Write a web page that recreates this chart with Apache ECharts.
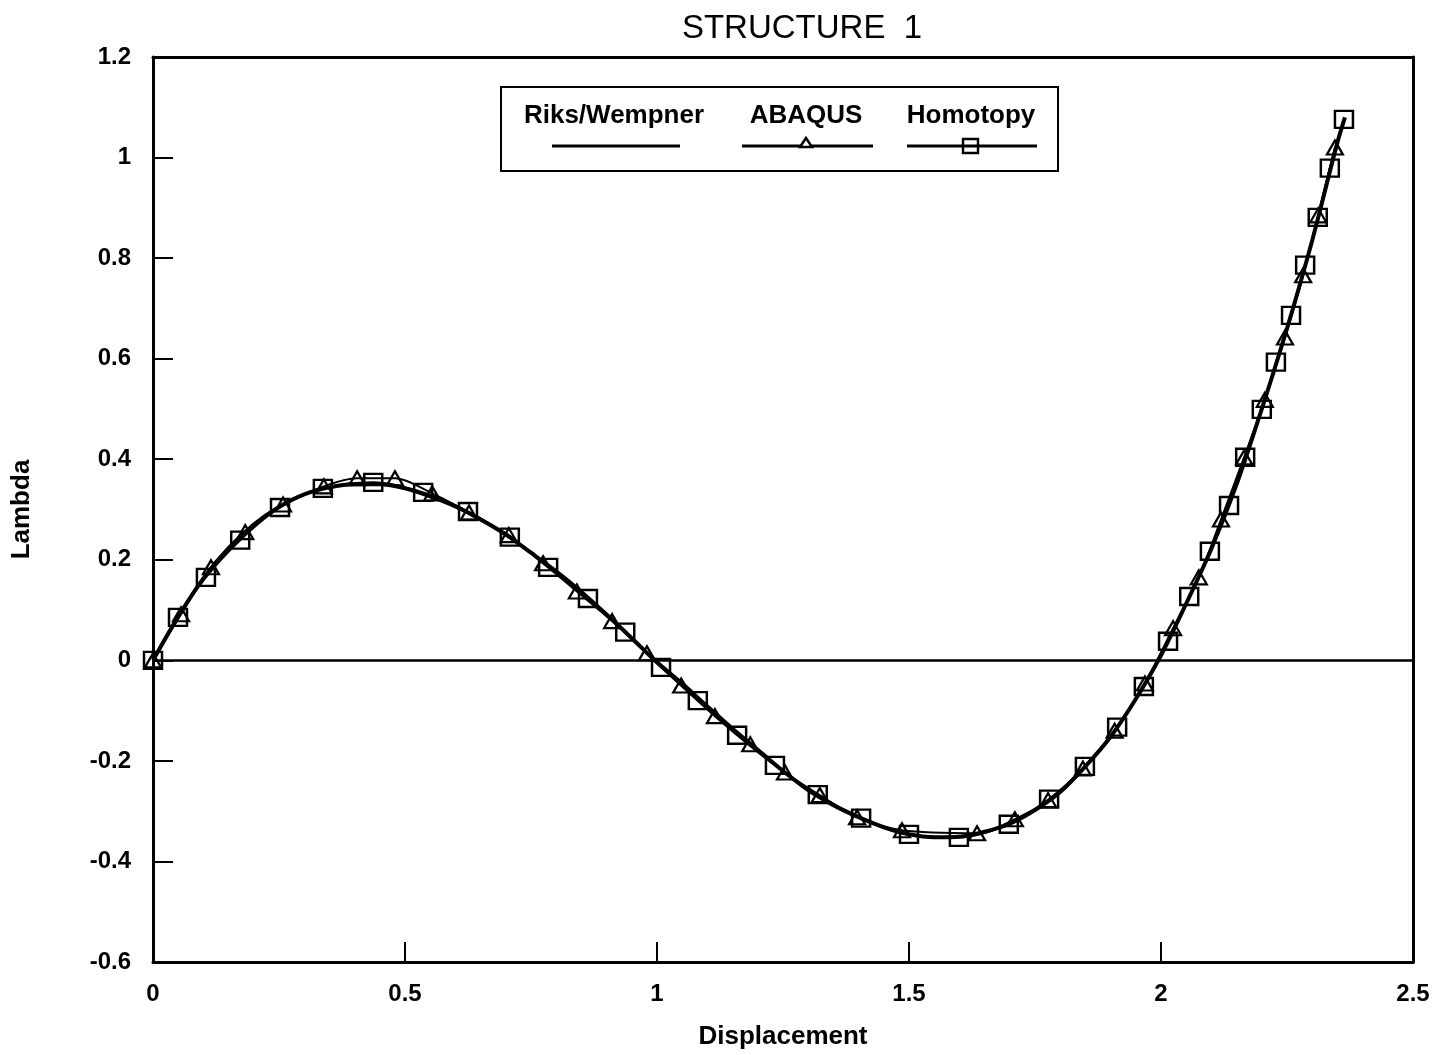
<!DOCTYPE html>
<html>
<head>
<meta charset="utf-8">
<script src="https://cdn.jsdelivr.net/npm/echarts@6/dist/echarts.min.js"></script>
<style>
html,body{margin:0;padding:0;background:#fff;}
#c{width:1441px;height:1055px;}
</style>
</head>
<body>
<div id="c"></div>
<script>
const titleText = 'STRUCTURE  1';
const xName = 'Displacement';
const yName = 'Lambda';
const seriesNames = ['Riks/Wempner', 'ABAQUS', 'Homotopy'];

const rikX = [0,0.05,0.1,0.15,0.2,0.25,0.3,0.35,0.4,0.45,0.5,0.55,0.6,0.65,0.7,0.75,0.8,0.85,0.9,0.95,1.0,1.05,1.1,1.15,1.2,1.25,1.3,1.35,1.4,1.45,1.5,1.55,1.6,1.65,1.7,1.75,1.8,1.85,1.9,1.95,2.0,2.05,2.1,2.15,2.2,2.25,2.3,2.35,2.365];
const rikY = [0,0.087,0.163,0.223,0.270,0.305,0.330,0.344,0.350,0.350,0.342,0.326,0.306,0.280,0.250,0.214,0.177,0.136,0.091,0.044,-0.004,-0.046,-0.092,-0.136,-0.178,-0.220,-0.258,-0.288,-0.312,-0.332,-0.346,-0.352,-0.351,-0.341,-0.325,-0.298,-0.262,-0.211,-0.152,-0.077,0.010,0.113,0.222,0.350,0.500,0.660,0.835,1.030,1.080];

const abqX = [0,0.0556,0.115,0.183,0.258,0.339,0.405,0.480,0.554,0.627,0.706,0.774,0.841,0.911,0.980,1.048,1.115,1.185,1.254,1.323,1.397,1.486,1.635,1.710,1.776,1.845,1.908,1.968,2.024,2.075,2.119,2.165,2.206,2.246,2.282,2.312,2.345];
const abqY = [0,0.0915,0.185,0.255,0.310,0.346,0.362,0.362,0.332,0.294,0.249,0.193,0.137,0.078,0.014,-0.050,-0.111,-0.167,-0.223,-0.268,-0.312,-0.338,-0.344,-0.316,-0.278,-0.215,-0.140,-0.046,0.064,0.165,0.280,0.404,0.518,0.642,0.766,0.885,1.020];

const homX = [0,0.0496,0.105,0.173,0.252,0.337,0.437,0.536,0.625,0.708,0.784,0.863,0.937,1.008,1.081,1.159,1.234,1.319,1.405,1.500,1.599,1.698,1.778,1.849,1.913,1.966,2.014,2.056,2.097,2.135,2.167,2.200,2.228,2.258,2.286,2.311,2.335,2.363];
const homY = [0,0.0855,0.165,0.239,0.304,0.342,0.354,0.334,0.296,0.245,0.185,0.123,0.056,-0.014,-0.080,-0.149,-0.209,-0.267,-0.314,-0.346,-0.352,-0.326,-0.276,-0.211,-0.133,-0.052,0.038,0.127,0.217,0.308,0.404,0.499,0.593,0.686,0.786,0.881,0.979,1.076];

const zip = (a, b) => a.map((v, i) => [v, b[i]]);
const FONT = '"Liberation Sans", Arial, Helvetica, sans-serif';

const chart = echarts.init(document.getElementById('c'), null, {renderer: 'canvas'});

const legendTextStyle = {fontFamily: FONT, fontSize: 26, fontWeight: 'bold', fill: '#000'};
const option = {
  backgroundColor: '#fff',
  animation: false,
  title: {
    text: titleText, left: 797, top: 7, textAlign: 'center',
    textStyle: {fontFamily: FONT, fontSize: 33, fontWeight: 'normal', color: '#000'}
  },
  grid: {left: 153, right: 28, top: 57, bottom: 93, containLabel: false},
  xAxis: [{
    type: 'value', min: 0, max: 2.5, interval: 0.5,
    name: xName, nameLocation: 'middle', nameGap: 62,
    nameTextStyle: {fontFamily: FONT, fontSize: 26, fontWeight: 'bold', color: '#000'},
    axisLine: {onZero: false, lineStyle: {color: '#000', width: 3}},
    axisTick: {inside: true, length: 20, lineStyle: {color: '#000', width: 2}},
    axisLabel: {margin: 20, fontFamily: FONT, fontSize: 24, fontWeight: 'bold', color: '#000'},
    splitLine: {show: false}
  }, {
    type: 'value', min: 0, max: 2.5, position: 'top',
    axisLine: {onZero: false, lineStyle: {color: '#000', width: 3}},
    axisTick: {show: false}, axisLabel: {show: false}, splitLine: {show: false}
  }],
  yAxis: [{
    type: 'value', min: -0.6, max: 1.2, interval: 0.2,
    name: yName, nameLocation: 'middle', nameGap: 118, nameRotate: 90,
    nameTextStyle: {fontFamily: FONT, fontSize: 26, fontWeight: 'bold', color: '#000'},
    axisLine: {onZero: false, lineStyle: {color: '#000', width: 3}},
    axisTick: {inside: true, length: 20, lineStyle: {color: '#000', width: 2}},
    axisLabel: {margin: 22, fontFamily: FONT, fontSize: 24, fontWeight: 'bold', color: '#000',
      formatter: v => String(Math.round(v * 10) / 10)},
    splitLine: {show: false}
  }, {
    type: 'value', min: -0.6, max: 1.2, position: 'right',
    axisLine: {onZero: false, lineStyle: {color: '#000', width: 3}},
    axisTick: {show: false}, axisLabel: {show: false}, splitLine: {show: false}
  }],
  series: [{
    name: seriesNames[0], type: 'line', data: zip(rikX, rikY), smooth: 0.3,
    showSymbol: false, symbol: 'none',
    lineStyle: {color: '#000', width: 4}, z: 3,
    markLine: {
      silent: true, symbol: 'none', label: {show: false},
      lineStyle: {color: '#000', width: 2.5, type: 'solid'},
      data: [{yAxis: 0}]
    }
  }, {
    name: seriesNames[1], type: 'line', data: zip(abqX, abqY), smooth: 0.3,
    symbol: 'triangle', symbolSize: [16, 14],
    lineStyle: {color: '#000', width: 2},
    itemStyle: {color: 'rgba(0,0,0,0)', borderColor: '#000', borderWidth: 2.2}, z: 4
  }, {
    name: seriesNames[2], type: 'line', data: zip(homX, homY), smooth: 0.3,
    symbol: 'rect', symbolSize: [18, 17],
    lineStyle: {color: '#000', width: 2},
    itemStyle: {color: 'rgba(0,0,0,0)', borderColor: '#000', borderWidth: 2.4}, z: 5
  }],
  graphic: [
    {type: 'rect', shape: {x: 501, y: 87, width: 557, height: 84}, style: {fill: '#fff', stroke: '#000', lineWidth: 2}, z: 100},
    {type: 'text', x: 614, y: 116, style: Object.assign({text: seriesNames[0], align: 'center', verticalAlign: 'middle'}, legendTextStyle), z: 101},
    {type: 'text', x: 806, y: 116, style: Object.assign({text: seriesNames[1], align: 'center', verticalAlign: 'middle'}, legendTextStyle), z: 101},
    {type: 'text', x: 971, y: 116, style: Object.assign({text: seriesNames[2], align: 'center', verticalAlign: 'middle'}, legendTextStyle), z: 101},
    {type: 'line', shape: {x1: 552, y1: 146, x2: 680, y2: 146}, style: {stroke: '#000', lineWidth: 3}, z: 101},
    {type: 'line', shape: {x1: 742, y1: 146, x2: 873, y2: 146}, style: {stroke: '#000', lineWidth: 3}, z: 101},
    {type: 'polygon', shape: {points: [[806, 138], [800, 147], [812, 147]]}, style: {fill: '#fff', stroke: '#000', lineWidth: 2.5}, z: 102},
    {type: 'line', shape: {x1: 907, y1: 146, x2: 1037, y2: 146}, style: {stroke: '#000', lineWidth: 3}, z: 101},
    {type: 'rect', shape: {x: 963, y: 139, width: 15, height: 14}, style: {fill: 'rgba(0,0,0,0)', stroke: '#000', lineWidth: 2.4}, z: 102}
  ]
};
chart.setOption(option);
</script>
</body>
</html>
